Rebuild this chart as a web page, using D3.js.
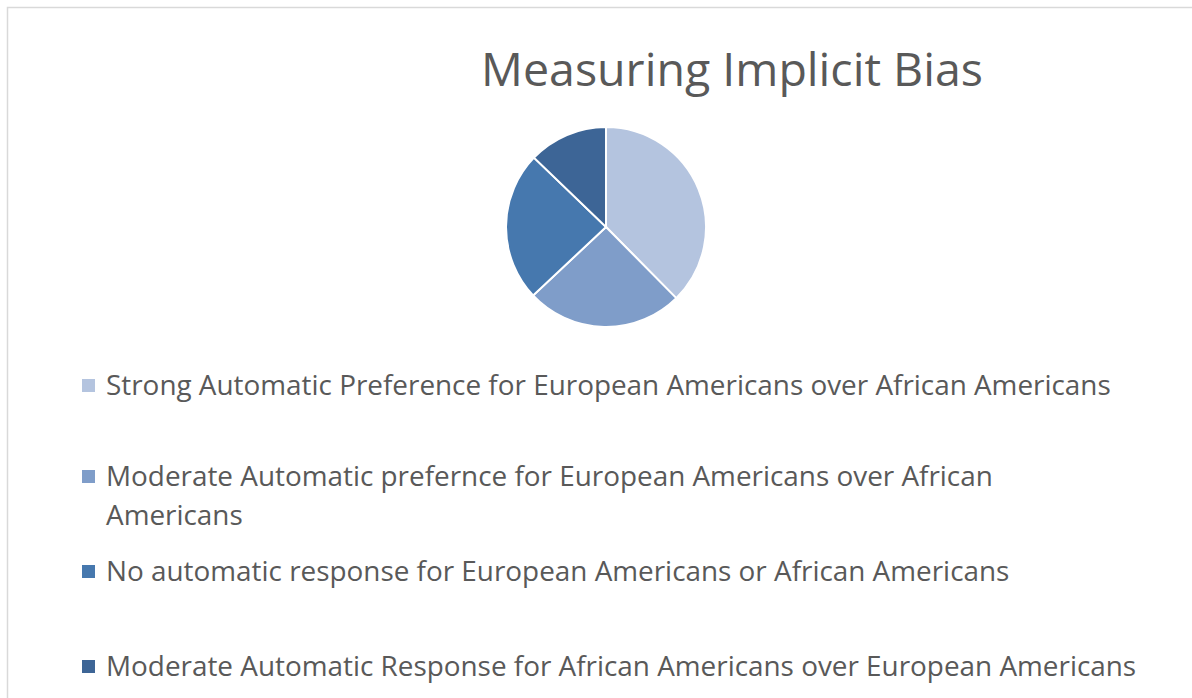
<!DOCTYPE html>
<html>
<head>
<meta charset="utf-8">
<script src="https://cdn.jsdelivr.net/npm/d3@7"></script>
<style>
  body { margin:0; background:#fff; }
  text { font-family: "Open Sans", "Noto Sans", sans-serif; fill:#595959; }
</style>
</head>
<body>
<svg id="svg" width="1192" height="698"></svg>
<script>
// chart data
var title = "Measuring Implicit Bias";
var categories = [
  "Strong Automatic Preference for European Americans over African Americans",
  "Moderate Automatic prefernce for European Americans over African\nAmericans",
  "No automatic response for European Americans or African Americans",
  "Moderate Automatic Response for African Americans over European Americans"
];
var values = [37.6, 25.4, 24.2, 12.8];
var colors = ["#b4c4df", "#7f9dc9", "#4678ae", "#3d6596"];

var svg = d3.select("#svg"),
    wsvg = +svg.attr("width"),
    hsvg = +svg.attr("height");

// chart frame (only top and left visible)
svg.append("rect")
  .attr("x", 7.5).attr("y", 7.5)
  .attr("width", wsvg + 20).attr("height", hsvg + 20)
  .style("fill", "none").style("stroke", "#d9d9d9").style("stroke-width", 1.5);

// fit a font size so a text reaches the target width
function fitSize(str, target) {
  var t = svg.append("text").style("font-size", "100px").text(str);
  var w = t.node().getComputedTextLength();
  t.remove();
  return 100 * target / w;
}

var titleSize = fitSize(title, 502);
svg.append("text")
  .attr("x", 732).attr("y", 86)
  .attr("text-anchor", "middle")
  .style("font-size", titleSize + "px")
  .text(title);

// pie
var cx = 606, cy = 227, radius = 100;
var pie = d3.pie().sort(null).value(d => d);
var arc = d3.arc().innerRadius(0).outerRadius(radius);

var pieG = svg.append("g").attr("transform", "translate(" + cx + "," + cy + ")");
pieG.selectAll("path")
  .data(pie(values))
  .enter().append("path")
  .attr("d", arc)
  .style("fill", (d, i) => colors[i])
  .style("stroke", "#fff")
  .style("stroke-width", 2);

// legend
var legendSize = fitSize(categories[0], 1005);
var legendY = d3.scaleOrdinal().domain(d3.range(categories.length)).range([395, 486, 581, 676]);
var lineHeight = 39;

var legend = svg.append("g").selectAll(".legend")
  .data(categories)
  .enter().append("g")
  .classed("legend", true)
  .attr("transform", (d, i) => "translate(0," + legendY(i) + ")");

legend.append("rect")
  .attr("x", 82).attr("y", -16)
  .attr("width", 13).attr("height", 13)
  .style("fill", (d, i) => colors[i]);

legend.append("text")
  .attr("x", 106).attr("y", 0)
  .style("font-size", legendSize + "px")
  .selectAll("tspan")
  .data(d => d.split("\n"))
  .enter().append("tspan")
  .attr("x", 106)
  .attr("dy", (d, j) => j === 0 ? 0 : lineHeight)
  .text(d => d);
</script>
</body>
</html>
